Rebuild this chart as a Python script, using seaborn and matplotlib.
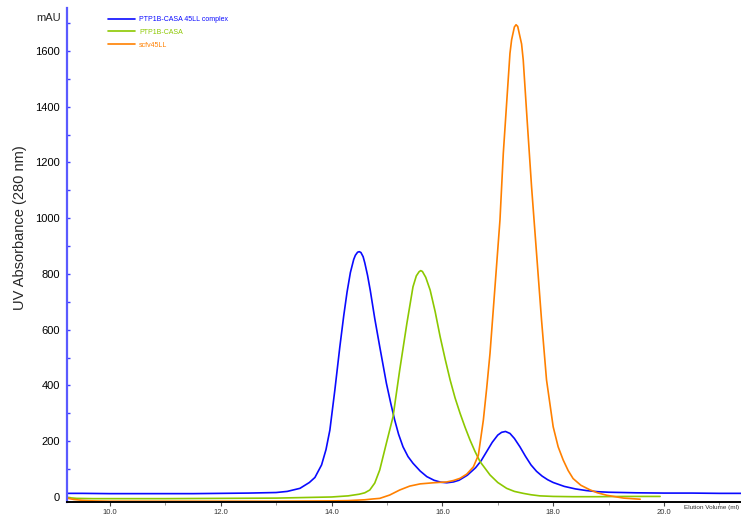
import numpy as np
import pandas as pd
import matplotlib
matplotlib.use("Agg")
import matplotlib.pyplot as plt
from matplotlib.ticker import MultipleLocator, FormatStrFormatter
import seaborn as sns

# Size-exclusion chromatograms, UV 280 nm (mAU) vs elution volume (ml)
complex_ml = [9.22, 9.5, 10.0, 10.5, 11.0, 11.5, 12.0, 12.5, 13.0, 13.2, 13.43, 13.6, 13.7,
              13.82, 13.9, 13.97, 14.06, 14.15, 14.22, 14.28, 14.34, 14.4, 14.43, 14.47, 14.5,
              14.53, 14.57, 14.6, 14.65, 14.7, 14.78, 14.87, 14.99, 15.07, 15.14, 15.21, 15.29,
              15.38, 15.47, 15.6, 15.72, 15.85, 15.97, 16.08, 16.2, 16.3, 16.45, 16.6,
              16.7, 16.8, 16.9, 17.0, 17.07, 17.14, 17.22, 17.3, 17.4, 17.5, 17.6, 17.7,
              17.8, 17.9, 18.0, 18.2, 18.4, 18.6, 18.8, 19.0, 19.5, 20.0, 20.5, 21.0, 21.39]
complex_mau = [13, 13, 12, 12, 12, 12, 13, 14, 16, 20, 31, 52, 70,
               115, 170, 240, 384, 539, 650, 735, 805, 852, 867, 878, 880,
               877, 862, 840, 795, 740, 640, 539, 408, 335, 276, 225, 180,
               145, 121, 93, 73, 60, 53, 51, 54, 60, 78, 105,
               130, 163, 196, 222, 232, 235, 228, 210, 180, 146, 115, 92,
               75, 62, 52, 38, 29, 23, 19, 17, 15, 14, 14, 13, 13]

casa_ml = [9.22, 9.4, 9.7, 10.0, 11.0, 12.0, 13.0, 13.5, 14.0, 14.3, 14.5, 14.6, 14.69,
           14.78, 14.87, 14.99, 15.11, 15.23, 15.36, 15.47, 15.53, 15.58, 15.61, 15.64,
           15.7, 15.78, 15.87, 15.96, 16.05, 16.14, 16.23, 16.32, 16.41, 16.5, 16.59,
           16.68, 16.86, 17.0, 17.16, 17.3, 17.46, 17.6, 17.76, 18.0, 18.36, 18.8, 19.3, 19.93]
casa_mau = [-2, -5, -6, -6, -6, -5, -4, -2, 0, 4, 10, 15, 25,
            50, 97, 193, 288, 455, 623, 754, 793, 808, 812, 809,
            788, 742, 665, 575, 495, 420, 355, 300, 250, 204, 163,
            127, 79, 52, 31, 20, 13, 8, 4, 2, 1, 1, 2, 2]

scfv_ml = [9.22, 9.35, 9.5, 9.7, 10.0, 11.0, 12.0, 13.0, 14.0, 14.3, 14.6, 14.75, 14.87,
           15.05, 15.23, 15.41, 15.6, 15.84, 16.08, 16.2, 16.32, 16.44, 16.56, 16.65,
           16.74, 16.8, 16.86, 16.95, 17.04, 17.1, 17.16, 17.22, 17.25, 17.3, 17.33, 17.36,
           17.43, 17.46, 17.53, 17.61, 17.7, 17.79, 17.88, 18.0, 18.09, 18.18, 18.27, 18.36,
           18.5, 18.66, 18.8, 18.97, 19.27, 19.57]
scfv_mau = [-4, -9, -12, -14, -15, -15, -15, -15, -14, -13, -10, -7, -5,
            7, 25, 39, 47, 51, 54, 59, 67, 82, 108, 150,
            276, 390, 515, 754, 994, 1233, 1412, 1591, 1640, 1686, 1694, 1688,
            1625, 1567, 1352, 1113, 874, 635, 420, 252, 180, 133, 95, 66,
            42, 26, 15, 6, -4, -8]

series_names = ["PTP1B-CASA 45LL complex", "PTP1B-CASA", "scfv45LL"]
series_colors = ["#0a0aff", "#8cc800", "#ff8000"]

df = pd.concat([
    pd.DataFrame({"ml": complex_ml, "mAU": complex_mau, "sample": series_names[0]}),
    pd.DataFrame({"ml": casa_ml, "mAU": casa_mau, "sample": series_names[1]}),
    pd.DataFrame({"ml": scfv_ml, "mAU": scfv_mau, "sample": series_names[2]}),
], ignore_index=True)

sns.set_style("white")
plt.rcParams["font.family"] = ["Liberation Sans", "DejaVu Sans"]

fig = plt.figure(figsize=(7.41, 5.14), dpi=100)
ax = fig.add_axes([0.090, 0.0228, 0.910, 0.9616])

sns.lineplot(data=df, x="ml", y="mAU", hue="sample", hue_order=series_names,
             palette=series_colors, estimator=None, sort=False, linewidth=1.2, ax=ax)

ax.set_xlim(9.22, 21.39)
ax.set_ylim(-19, 1754)

for side in ("top", "right"):
    ax.spines[side].set_visible(False)
ax.spines["left"].set_color("#5a5aff")
ax.spines["left"].set_linewidth(1.6)
ax.spines["bottom"].set_color("black")
ax.spines["bottom"].set_linewidth(1.4)

ax.yaxis.set_major_locator(MultipleLocator(200))
ax.yaxis.set_minor_locator(MultipleLocator(100))
ax.set_yticks([v for v in range(0, 1601, 200)])
ax.tick_params(axis="y", which="both", direction="in", length=2, width=1,
               color="#4040ff", labelsize=8, labelcolor="black", pad=5, left=True)

ax.xaxis.set_major_locator(MultipleLocator(2))
ax.xaxis.set_minor_locator(MultipleLocator(1))
ax.xaxis.set_major_formatter(FormatStrFormatter("%.1f"))
ax.tick_params(axis="x", which="major", direction="out", length=3, width=0.8,
               color="#444444", labelsize=5.5, labelcolor="#333333", pad=1.5, bottom=True)
ax.tick_params(axis="x", which="minor", direction="out", length=2, width=0.6,
               color="#888888", bottom=True)

ax.set_xlabel("")
ax.set_ylabel("")
fig.text(20 / 741, 1 - 228 / 514, "UV Absorbance (280 nm)", rotation=90,
         ha="center", va="center", fontsize=10.5)
fig.text(61 / 741, 1 - 18 / 514, "mAU", ha="right", va="center", fontsize=8)
fig.text(739 / 741, 1 - 507 / 514, "Elution Volume (ml)", ha="right", va="center",
         fontsize=4.6, color="#333333")

handles, labels = ax.get_legend_handles_labels()
ax.get_legend().remove()
fig.legend(handles, labels, loc="upper left", bbox_to_anchor=(108 / 741, 1 - 16 / 514),
           frameon=False, fontsize=5, labelcolor="linecolor", handlelength=3.9,
           handletextpad=0.55, labelspacing=0.85, borderpad=0, borderaxespad=0)

fig.savefig("out.png", dpi=100)
